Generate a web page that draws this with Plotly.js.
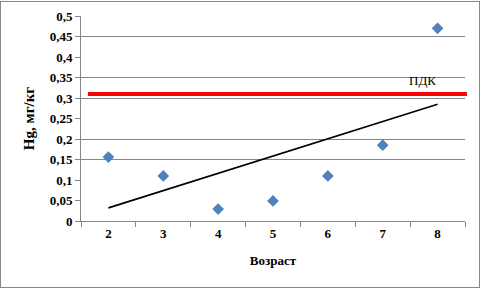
<!DOCTYPE html>
<html>
<head>
<meta charset="utf-8">
<script src="https://cdn.plot.ly/plotly-3.0.1.min.js"></script>
<style>
html,body{margin:0;padding:0;background:#fff;}
#wrap{position:relative;width:481px;height:289px;}
#chart{position:absolute;left:0;top:0;width:481px;height:289px;}
#frame{position:absolute;left:0;top:1px;width:478px;height:285px;border:1px solid #868686;pointer-events:none;}
</style>
</head>
<body>
<div id="wrap"><div id="chart"></div><div id="frame"></div></div>
<script>
// Data
const ages = ['2', '3', '4', '5', '6', '7', '8'];
const hgValues = [0.156, 0.11, 0.029, 0.049, 0.11, 0.185, 0.47];
const trendX = ['2', '8'];
const trendY = [0.032, 0.285];
const pdkValue = 0.31;
const pdkLabel = 'ПДК';
const yTickVals = [0, 0.05, 0.1, 0.15, 0.2, 0.25, 0.3, 0.35, 0.4, 0.45, 0.5];
const yTickText = ['0', '0,05', '0,1', '0,15', '0,2', '0,25', '0,3', '0,35', '0,4', '0,45', '0,5'];
const gridVals = [0.15, 0.2, 0.3, 0.35, 0.45, 0.5];

const serif = '"Liberation Serif", "Times New Roman", serif';
const gray = '#868686';

const traces = [
  {
    x: ages, y: hgValues, type: 'scatter', mode: 'markers',
    marker: {symbol: 'diamond', size: 9, color: '#4F81BD'},
    showlegend: false, hoverinfo: 'skip'
  },
  {
    x: trendX, y: trendY, type: 'scatter', mode: 'lines',
    line: {color: '#000000', width: 1.6},
    showlegend: false, hoverinfo: 'skip'
  }
];

const tickFont = {family: serif, size: 13, color: '#000', weight: 700};

const layout = {
  width: 481, height: 289,
  margin: {l: 81, r: 16, t: 16, b: 68},
  paper_bgcolor: '#ffffff', plot_bgcolor: '#ffffff',
  separators: ', ',
  showlegend: false,
  xaxis: {
    type: 'category',
    categoryorder: 'array', categoryarray: ages,
    range: [-0.5, 6.5],
    tickson: 'boundaries',
    ticks: 'outside', ticklen: 5, tickcolor: gray, tickwidth: 1,
    showline: true, linecolor: gray, linewidth: 1,
    showgrid: false, zeroline: false,
    tickfont: tickFont,
    title: {text: 'Возраст', font: {family: serif, size: 13, color: '#000', weight: 700}, standoff: 16}
  },
  yaxis: {
    range: [0, 0.5],
    tickvals: yTickVals, ticktext: yTickText,
    ticks: 'outside', ticklen: 5, tickcolor: gray, tickwidth: 1,
    showline: true, linecolor: gray, linewidth: 1,
    showgrid: false, zeroline: false,
    tickfont: tickFont,
    title: {text: 'Hg, мг/кг', font: {family: serif, size: 15, color: '#000', weight: 700}, standoff: 11}
  },
  yaxis2: {
    overlaying: 'y', range: [0, 0.5],
    tickvals: gridVals, showticklabels: false, ticks: '',
    showgrid: true, gridcolor: gray, gridwidth: 1,
    zeroline: false, showline: false
  },
  shapes: [
    {type: 'line', xref: 'paper', yref: 'y', x0: 0.018, x1: 1.005, y0: pdkValue, y1: pdkValue,
     line: {color: '#FF0000', width: 4}, layer: 'above'}
  ],
  annotations: [
    {xref: 'x', yref: 'y', x: 5.73, y: pdkValue, text: pdkLabel, showarrow: false,
     xanchor: 'center', yanchor: 'bottom', yshift: 4,
     font: {family: serif, size: 13, color: '#000'}}
  ]
};

traces.push({x: [ages[0]], y: [null], yaxis: 'y2', type: 'scatter', mode: 'markers', showlegend: false, hoverinfo: 'skip'});

Plotly.newPlot('chart', traces, layout, {staticPlot: true, displayModeBar: false});
</script>
</body>
</html>
